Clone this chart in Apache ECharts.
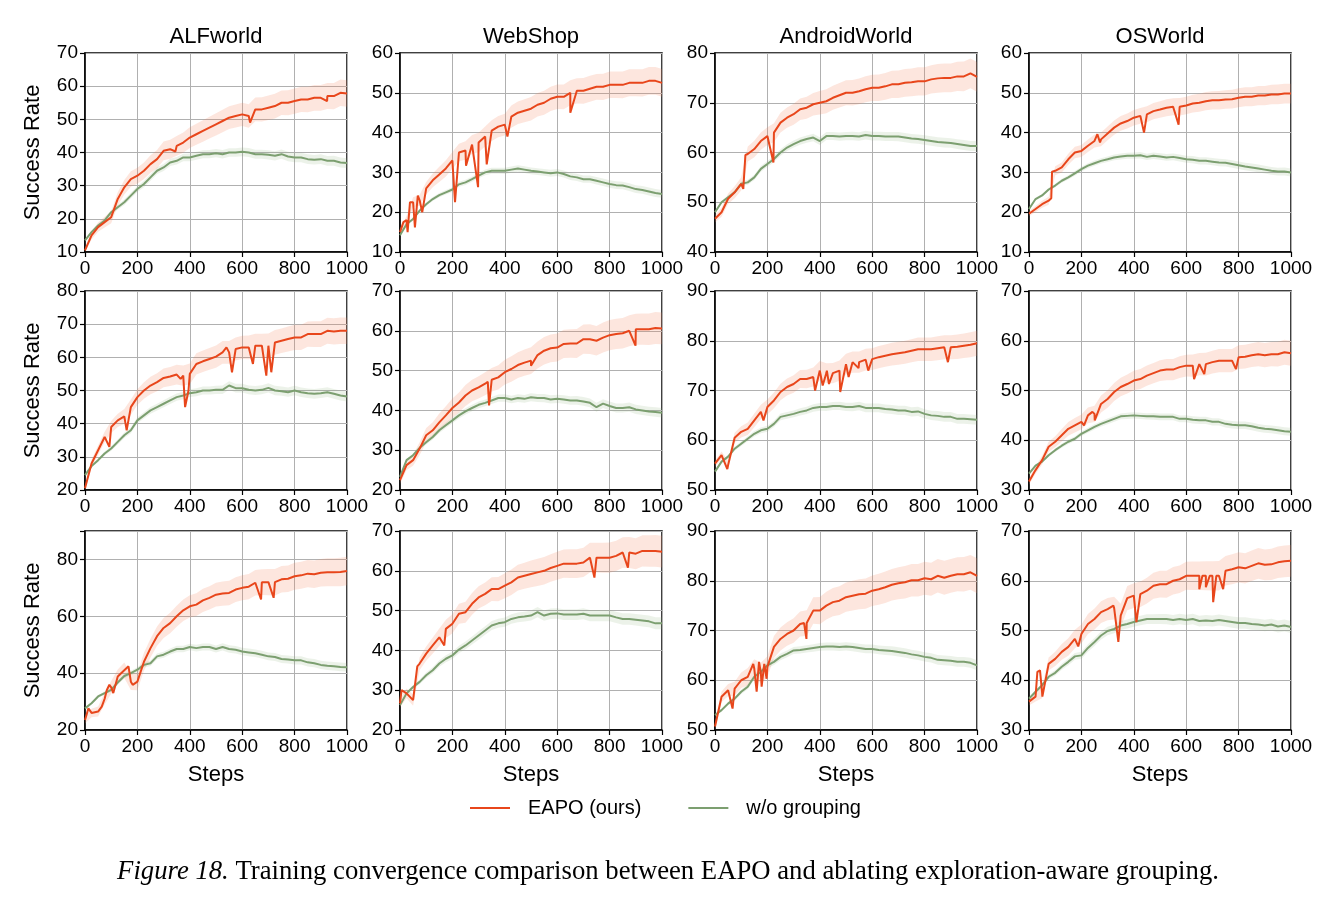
<!DOCTYPE html>
<html>
<head>
<meta charset="utf-8">
<title>Training convergence: EAPO vs w/o grouping</title>
<script src="https://cdn.jsdelivr.net/npm/echarts@6/dist/echarts.min.js"></script>
<style>
  html, body { margin: 0; padding: 0; background: #fff; }
  #chart { width: 1340px; height: 902px; }
</style>
</head>
<body>
<div id="chart"></div>
<script>
// x positions of the sampled points (training steps)
const steps = [0,25,50,75,100,125,150,175,200,225,250,275,300,325,350,375,400,425,450,475,
  500,525,550,575,600,625,650,675,700,725,750,775,800,825,850,875,900,925,950,975,1000];

const benchmarks = ["ALFworld", "WebShop", "AndroidWorld", "OSWorld"];

// y axis ranges, row by row (ALFworld, WebShop, AndroidWorld, OSWorld)
const yMin = [10, 10, 40, 10, 20, 20, 50, 30, 20, 20, 50, 30];
const yMax = [70, 60, 80, 60, 80, 70, 90, 70, 90, 70, 90, 70];
const yStep = [10, 10, 10, 10, 10, 10, 10, 10, 20, 10, 10, 10];

// ---- row 1 ----
const eapoAlf1 = [10.5,15,17.5,19,20.5,26,29.5,32,33,34.5,36.5,38,40.5,41,42,43,44.5,45.5,46.5,47.5,
  48.5,49.5,50.5,51,51.5,51,53,53,53.5,54,55,55,55.5,56,56,56.5,56.5,57,57,58,57.8];
const noGroupAlf1 = [13.5,16,18,19.5,22,23.5,25,27,29,30.5,32.5,34.5,35.5,37,37.5,38.5,38.5,39,39.5,39.5,
  39.8,39.5,40,40,40.2,40,39.5,39.5,39.3,39,39.5,38.8,38.5,38.5,38,37.8,38,37.5,37.5,37,36.8];
const dipsAlf1 = [[345,40.3],[630,49],[924,55.5]];

const eapoWeb1 = [15,18,22.5,23,26,28,29.5,31,33,35,35.5,37,37.5,39,40.5,41.5,42,44,45,45.5,
  46,47,47.5,48.5,49,49,50,50.5,50.5,51,51.5,51.5,52,52,52,52.5,52.5,52.5,53,53,52.5];
const noGroupWeb1 = [14.2,17,18.3,20.4,22,23.3,24.3,25,25.7,27,27.5,28.3,29.2,30,30.4,30.4,30.4,30.7,31,30.7,
  30.4,30.2,30,29.8,30,29.6,29,28.75,28.3,28.3,27.9,27.5,27.1,26.8,26.7,26.3,25.8,25.6,25.2,24.8,24.6];
const dipsWeb1 = [[13,17.5],[29,15],[38,22.5],[57,16.2],[68,24.2],[85,20],[210,22.5],[252,31.7],
  [298,26.3],[331,32],[410,39],[650,45]];

const eapoAnd1 = [46.7,48,50.7,52,53.7,59.7,60.7,62.3,63.3,64,66,67,67.7,68.7,69,69.7,70,70.3,71,71.5,
  72,72,72.3,72.7,73,73,73.3,73.7,73.7,74,74.1,74.3,74.3,74.7,74.9,75,75,75.3,75.3,75.9,75.2];
const noGroupAnd1 = [48,50,51,52,53.7,54,55,56.7,57.7,58.7,60,61,61.7,62.3,62.7,63,62.3,63.3,63.3,63.2,
  63.3,63.3,63.2,63.5,63.3,63.3,63.2,63.2,63.2,63,62.8,62.7,62.5,62.3,62.1,62,61.9,61.7,61.5,61.3,61.3];
const dipsAnd1 = [[108,52.7],[116,59.5],[223,58]];

const eapoOs1 = [19.6,20.8,22,22.9,30.4,31.25,33.3,35,35.4,36.7,37.9,38.3,39.8,41.25,42.3,42.9,43.75,44.2,44.6,45.4,
  45.8,46.25,46.5,46.5,46.8,47.3,47.5,47.9,48.1,48.1,48.3,48.4,48.75,49,49,49.3,49.3,49.6,49.6,49.8,49.8];
const noGroupOs1 = [20.8,23.3,24.2,25.7,26.7,27.9,28.75,29.75,30.8,31.7,32.3,32.9,33.3,33.75,34,34.2,34.2,34.3,33.9,34.2,
  34,33.75,33.9,33.6,33.3,33.2,32.9,32.9,32.7,32.5,32.4,32.1,31.8,31.5,31.25,31,30.7,30.4,30.2,30.2,30];
const dipsOs1 = [[85,23.5],[88,30.2],[261,39.6],[271,37.5],[439,40],[571,42]];

// ---- row 2 ----
const eapoAlf2 = [20.5,28,32,36,39,41,42.2,45,48,50,51.5,52.5,53.8,54.2,54.8,54.5,55,58,58.8,59.5,
  60.2,61.5,61.5,62.5,63,63,63.5,63.5,63.5,64.5,65,65.5,66,66,67,67,67,68,67.8,68,68];
const noGroupAlf2 = [24.5,27.2,29,31,32.5,34.5,36.5,38,41,42.5,44,45,46,47,48,48.5,49.2,49.5,50,50,
  50.2,50.2,51.5,50.7,50.7,50.2,50,50.2,50.8,50,49.8,49.5,50,49.5,49.2,49,49.2,49.5,49,48.5,48.2];
const dipsAlf2 = [[93,33],[159,38],[365,53.5],[382,45],[395,50],[540,63],[561,55.5],[641,58],
  [692,54.5],[701,63.5],[711,55.5]];

const eapoWeb2 = [22.5,26.25,27.5,30.4,33.75,35,37,38.75,40.6,42,43.75,45,45.8,46.7,47.7,48.3,49.6,50.4,51.4,52,
  52.5,53.9,55,55.6,55.8,56.7,56.8,56.8,57.9,57.9,57.5,58.3,58.9,59.2,59.4,60,60.4,60.4,60.4,60.7,60.6];
const noGroupWeb2 = [23.3,27.5,28.75,30.6,32,33.3,35,36.25,37.5,38.75,39.75,40.6,41.4,41.9,42.5,43.1,43.1,42.75,43.1,42.9,
  43.3,43.1,43.1,42.75,42.9,42.75,42.5,42.5,42.25,41.9,40.8,41.7,41.1,40.6,40.6,40.8,40.25,40,39.75,39.6,39.4];
const dipsWeb2 = [[335,47.2],[340,41.25],[500,51.2],[899,56.25]];

const eapoAnd2 = [55.3,57,55,60.5,61.7,62.3,64,65.7,66.7,68,69.7,70.7,71.3,72.3,72.3,72.7,74,73.5,73.5,74,
  75.3,75.7,75.7,76.2,76.3,76.7,77,77.3,77.5,77.7,78,78.3,78.3,78.3,78.5,78.7,78.7,78.8,79,79.2,79.5];
const noGroupAnd2 = [53.7,55.7,56.7,58.3,59.3,60.3,61.3,62,62.3,63.3,64.7,65,65.3,65.7,66,66.5,66.7,66.7,66.9,66.9,
  66.7,66.7,66.9,66.5,66.5,66.5,66.3,66.2,66,66,65.7,65.8,65.3,65,64.9,64.7,64.7,64.3,64.3,64.2,64.1];
const dipsAnd2 = [[47,54.2],[185,64],[382,70],[411,71],[427,74],[435,71.3],[478,69.7],[510,72.7],
  [548,74.5],[585,74],[889,75.7]];

const eapoOs2 = [31.7,34,36,38.7,39.7,41,42.3,43,43.7,45,45.3,47.3,48.3,49.7,50.7,51.3,52,52.3,53,53.5,
  54,54.2,54.2,54.7,55,55,55.3,55.3,55.7,56,56,56,56.7,56.8,57.1,57.3,57.1,57.3,57.3,57.7,57.5];
const noGroupOs2 = [33.3,34.9,35.7,37,38,38.9,39.7,40.3,41.3,42,42.7,43.3,43.8,44.3,44.8,44.9,45,44.9,44.8,44.8,
  44.7,44.7,44.7,44.3,44.3,44.1,44,44,43.7,43.7,43.3,43.1,43,43,42.8,42.5,42.3,42.2,42,41.8,41.7];
const dipsOs2 = [[210,43],[242,45.7],[251,44],[630,52.3],[656,55.3],[669,53.3],[790,54.3]];

// ---- row 3 ----
const eapoAlf3 = [23.5,26,26.5,31,35,38.8,41,37,37,44,48.8,53,55.9,57.6,60,62.1,63.5,64.1,65.6,66.5,
  67.6,68,68.2,69.4,70,70.4,71.8,72,72,72,73,73.2,74.1,74.4,75,74.8,75.3,75.5,75.5,75.6,75.9];
const noGroupAlf3 = [27.6,29.4,31.8,33,34.1,36.7,39,40,41.2,42.9,43.5,45.9,46.5,47.6,48.5,48.5,49.2,48.8,49.2,49.2,
  48.5,49.2,48.5,48.2,47.6,47.3,47,46.5,45.9,45.7,45,44.8,44.5,44.5,43.8,43.5,42.9,42.6,42.4,42.2,42.1];
const dipsAlf3 = [[13,27.6],[29,25.9],[64,28.2],[83,34],[93,35.9],[108,33],[166,42.4],[182,35.9],
  [672,65.9],[720,66.5]];

const eapoWeb3 = [26.7,29.2,27.5,36.7,39.2,41.25,43.3,45.4,46.7,49.2,49.6,51.7,53.3,54.2,55.4,55.4,56.25,57.1,58.3,58.75,
  59.2,59.6,60,60.7,61.25,61.8,61.8,61.8,62.1,63.3,63.3,63.3,63.3,63.75,64.6,64.6,64.3,65,65,65,64.8];
const noGroupWeb3 = [26.25,29.2,30.8,32.1,33.75,35,36.7,37.9,38.75,40.2,41.25,42.5,43.75,45,46.25,46.8,47.1,47.9,48.3,48.5,
  48.75,49.6,48.75,49.2,49.3,49,49,49,49.2,48.75,48.75,48.75,48.75,48.3,47.9,47.9,47.7,47.5,47.3,46.8,46.8];
const dipsWeb3 = [[6,30],[66,36],[169,41.25],[742,58.3],[870,60.8]];

const eapoAnd3 = [50.7,56.7,58,58.3,60,60.7,62.3,61.5,62.7,66.7,68.3,69.3,70,71.3,71.5,74,74,75,75.7,76,
  76.7,77,77.3,77.4,78,78.3,78.7,79.2,79.5,79.7,80.1,80.1,80.5,80.3,81,80.6,81,81.3,81.3,81.7,81];
const noGroupAnd3 = [53,54,55.3,56.3,57.7,58.7,60.7,61.7,63,63.7,64.7,65.3,66,66.1,66.3,66.5,66.7,66.8,66.8,66.7,
  66.8,66.7,66.5,66.3,66.3,66.1,66,65.9,65.7,65.5,65.2,65,64.7,64.5,64.1,64,63.9,63.7,63.7,63.5,63];
const dipsAnd3 = [[67,54.3],[146,63.3],[159,57.7],[168,63.7],[178,58.7],[188,63.3],[197,60.3],
  [340,71.5],[349,68.3]];

const eapoOs3 = [35.7,36.7,37.5,43.3,44.3,45.7,46.7,48.3,49.3,51.3,52.3,53.7,54.3,54.5,53,56.5,57,57.3,58,59,
  59.3,59.3,60,60.3,61,61,61,61,61,61,62,62.3,62.7,62.5,63,63.5,63.2,63.3,63.7,63.9,64];
const noGroupOs3 = [36.3,37.7,39,40.7,41.5,42.7,43.7,44.8,45,46.5,47.7,49,49.9,50.3,51,51.3,51.7,52,52.3,52.3,
  52.3,52.3,52.1,52.3,52.1,52.3,51.9,52,51.9,52.1,51.9,51.7,51.5,51.5,51.3,51.2,51,51.2,50.8,51,50.7];
const dipsOs3 = [[32,41.7],[42,42],[51,36.7],[188,46.8],[322,55],[341,47.7],[410,51.7],[650,58.3],
  [662,61],[675,58.7],[690,61],[703,55.7],[715,61],[741,58.3]];

// shaded spread (half width) per panel, and how it grows over the steps
const eapoSpread = [4, 3.5, 3, 2.5, 4, 4, 2.5, 2.5, 5, 4, 3.5, 3.2];
const noGroupSpread = [1.5, 1, 1, 1, 1.5, 1.2, 1, 0.8, 1.5, 1.5, 1, 1.2];
const spreadScale = [0.25,0.3,0.35,0.4,0.45,0.5,0.55,0.58,0.6,0.63,0.66,0.68,0.7,0.72,0.74,0.76,0.78,0.8,0.81,0.82,
  0.84,0.85,0.86,0.87,0.88,0.89,0.9,0.91,0.92,0.93,0.93,0.94,0.95,0.95,0.96,0.97,0.97,0.98,0.99,1,1];

const panels = [
  [eapoAlf1, noGroupAlf1, dipsAlf1], [eapoWeb1, noGroupWeb1, dipsWeb1],
  [eapoAnd1, noGroupAnd1, dipsAnd1], [eapoOs1, noGroupOs1, dipsOs1],
  [eapoAlf2, noGroupAlf2, dipsAlf2], [eapoWeb2, noGroupWeb2, dipsWeb2],
  [eapoAnd2, noGroupAnd2, dipsAnd2], [eapoOs2, noGroupOs2, dipsOs2],
  [eapoAlf3, noGroupAlf3, dipsAlf3], [eapoWeb3, noGroupWeb3, dipsWeb3],
  [eapoAnd3, noGroupAnd3, dipsAnd3], [eapoOs3, noGroupOs3, dipsOs3],
];

const RED = "#e8461b";
const GREEN = "#7c9f70";
const FONT = "'Liberation Sans', Arial, Helvetica, sans-serif";
const SERIF = "'Liberation Serif', 'Times New Roman', serif";

// layout of the plot areas
const colLeft = [85, 400, 715, 1029];
const rowTop = [53, 291, 531];
const plotW = 262;
const plotH = 199;

const myChart = echarts.init(document.getElementById("chart"), null, { renderer: "canvas" });

function lineData(base, dips) {
  let pts = steps.map((s, i) => [s, base[i]]).concat(dips);
  return pts.sort((a, b) => a[0] - b[0]);
}

// shaded band around a curve, drawn as one polygon through the axis scales
function bandSeries(idx, base, spread, color) {
  let upper = steps.map((s, i) => [s, base[i] + spread * spreadScale[i]]);
  let lower = steps.map((s, i) => [s, base[i] - spread * spreadScale[i]]);
  return {
    type: "custom", xAxisIndex: idx, yAxisIndex: idx, silent: true, z: 1,
    data: [[0, yMin[idx]]],
    renderItem: (params, api) => {
      let pts = upper.concat(lower.slice().reverse()).map((p) => api.coord(p));
      let cs = params.coordSys;
      let clipped = echarts.graphic.clipPointsByRect(pts, { x: cs.x, y: cs.y, width: cs.width, height: cs.height });
      return { type: "polygon", shape: { points: clipped }, style: { fill: color } };
    },
  };
}

let grids = [], xAxes = [], yAxes = [], series = [], graphics = [];

panels.forEach((p, i) => {
  let row = Math.floor(i / 4), col = i % 4;
  grids.push({
    left: colLeft[col], top: rowTop[row], width: plotW, height: plotH,
    show: true, borderColor: "#000", borderWidth: 1.5, backgroundColor: "transparent",
  });
  xAxes.push({
    gridIndex: i, type: "value", min: 0, max: 1000, interval: 200,
    axisLine: { show: true, lineStyle: { color: "#000", width: 1.5 } },
    axisTick: { show: true, length: 5, lineStyle: { color: "#000", width: 1.2 } },
    axisLabel: { fontSize: 19, color: "#000", fontFamily: FONT, margin: 7, formatter: (v) => String(v) },
    splitLine: { show: true, lineStyle: { color: "#b0b0b0", width: 1 } },
  });
  let lo = yMin[i], st = yStep[i];
  yAxes.push({
    gridIndex: i, type: "value", min: lo, max: yMax[i], interval: st,
    axisLine: { show: true, lineStyle: { color: "#000", width: 1.5 } },
    axisTick: { show: true, length: 5, lineStyle: { color: "#000", width: 1.2 } },
    axisLabel: {
      fontSize: 19, color: "#000", fontFamily: FONT, margin: 7,
      formatter: (v) => ((v - lo) % st === 0 ? String(v) : ""),
    },
    splitLine: { show: true, lineStyle: { color: "#b0b0b0", width: 1 } },
  });

  series.push(bandSeries(i, p[0], eapoSpread[i], "rgba(244,130,90,0.2)"));
  series.push(bandSeries(i, p[1], noGroupSpread[i], "rgba(125,165,105,0.15)"));
  series.push({
    name: "w/o grouping", type: "line", xAxisIndex: i, yAxisIndex: i,
    data: lineData(p[1], []), symbol: "none", z: 3,
    itemStyle: { color: GREEN }, lineStyle: { color: GREEN, width: 2 },
  });
  series.push({
    name: "EAPO (ours)", type: "line", xAxisIndex: i, yAxisIndex: i,
    data: lineData(p[0], p[2]), symbol: "none", z: 4,
    itemStyle: { color: RED }, lineStyle: { color: RED, width: 2 },
  });
});

// titles, axis names, caption
benchmarks.forEach((b, c) => {
  graphics.push({
    type: "text", x: colLeft[c] + plotW / 2, y: 37,
    style: { text: b, font: "22px " + FONT, fill: "#000", textAlign: "center", textVerticalAlign: "middle" },
  });
  graphics.push({
    type: "text", x: colLeft[c] + plotW / 2, y: 775,
    style: { text: "Steps", font: "22px " + FONT, fill: "#000", textAlign: "center", textVerticalAlign: "middle" },
  });
});
rowTop.forEach((t) => {
  graphics.push({
    type: "text", x: 33, y: t + plotH / 2, rotation: Math.PI / 2,
    style: { text: "Success Rate", font: "22px " + FONT, fill: "#000", textAlign: "center", textVerticalAlign: "middle" },
  });
});
graphics.push({
  type: "text", x: 668, y: 872,
  style: {
    text: "{i|Figure 18.} Training convergence comparison between EAPO and ablating exploration-aware grouping.",
    font: "26.7px " + SERIF, fill: "#000",
    textAlign: "center", textVerticalAlign: "middle",
    rich: { i: { fontStyle: "italic", fontSize: 26.7, fontFamily: SERIF } },
  },
});

let option = {
  animation: false,
  backgroundColor: "#fff",
  grid: grids,
  xAxis: xAxes,
  yAxis: yAxes,
  legend: {
    data: ["EAPO (ours)", "w/o grouping"],
    left: 465, top: 793,
    icon: "rect", itemWidth: 40, itemHeight: 2, itemGap: 47,
    textStyle: { fontSize: 20, color: "#000", fontFamily: FONT, padding: [0, 0, 0, 13] },
  },
  graphic: graphics,
  series: series,
};

option && myChart.setOption(option);
</script>
</body>
</html>
